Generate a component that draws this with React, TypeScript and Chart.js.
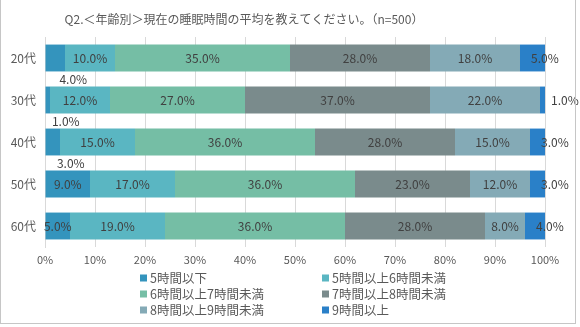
import React, { useEffect, useRef } from "react";
import { Chart, registerables } from "chart.js";

Chart.register(...registerables);

const TITLE = "Q2.＜年齢別＞現在の睡眠時間の平均を教えてください。（n=500）";
const categories = ["20代", "30代", "40代", "50代", "60代"];
const seriesNames = [
  "5時間以下",
  "5時間以上6時間未満",
  "6時間以上7時間未満",
  "7時間以上8時間未満",
  "8時間以上9時間未満",
  "9時間以上",
];
const s1 = [4, 1, 3, 9, 5];
const s2 = [10, 12, 15, 17, 19];
const s3 = [35, 27, 36, 36, 36];
const s4 = [28, 37, 28, 23, 28];
const s5 = [18, 22, 15, 12, 8];
const s6 = [5, 1, 3, 3, 4];
const seriesValues = [s1, s2, s3, s4, s5, s6];
const colors = ["#3494bd", "#5ab6c2", "#75bea5", "#7a8b8c", "#84aab6", "#2a80c8"];
const xTicks = [0, 10, 20, 30, 40, 50, 60, 70, 80, 90, 100];

const FONT = '"Noto Sans CJK JP", "Noto Sans", sans-serif';
const TEXT = "#404040";

const labelPlugin = {
  id: "customLabels",
  afterDatasetsDraw(chart: any) {
    const ctx = chart.ctx;
    ctx.save();
    ctx.font = `12px ${FONT}`;
    ctx.fillStyle = TEXT;
    ctx.textBaseline = "middle";
    chart.data.datasets.forEach((ds: any, di: number) => {
      const meta = chart.getDatasetMeta(di);
      meta.data.forEach((bar: any, i: number) => {
        const v = ds.data[i];
        const txt = v.toFixed(1) + "%";
        const left = Math.min(bar.x, bar.base);
        const right = Math.max(bar.x, bar.base);
        const cx = (left + right) / 2;
        if (di === 0 && v < 5) {
          ctx.textAlign = "center";
          ctx.fillText(txt, cx + 18, bar.y + bar.height / 2 + 8);
        } else if (di === seriesValues.length - 1) {
          ctx.textAlign = "left";
          ctx.fillText(txt, left + 11, bar.y);
        } else {
          ctx.textAlign = "center";
          ctx.fillText(txt, cx, bar.y);
        }
      });
    });
    ctx.restore();
  },
  afterDraw(chart: any) {
    const ctx = chart.ctx;
    ctx.save();
    ctx.fillStyle = "#595959";
    ctx.font = `12px ${FONT}`;
    ctx.textAlign = "center";
    ctx.textBaseline = "middle";
    ctx.fillText(TITLE, 244, 19);
    // legend
    ctx.font = `12.5px ${FONT}`;
    ctx.textAlign = "left";
    const cols = [143, 325];
    const rows = [278, 294, 310];
    seriesNames.forEach((name, i) => {
      const x = cols[i % 2];
      const y = rows[Math.floor(i / 2)];
      ctx.fillStyle = colors[i];
      ctx.fillRect(x - 3, y - 3.5, 7, 7);
      ctx.fillStyle = "#595959";
      ctx.fillText(name, x + 7, y);
    });
    ctx.restore();
  },
};

export default function App() {
  const ref = useRef<HTMLCanvasElement>(null);
  useEffect(() => {
    if (!ref.current) return;
    const chart = new Chart(ref.current, {
      type: "bar",
      data: {
        labels: categories,
        datasets: seriesValues.map((d, i) => ({
          label: seriesNames[i],
          data: d,
          backgroundColor: colors[i],
          borderWidth: 0,
          barPercentage: 0.64,
          categoryPercentage: 1,
        })),
      },
      options: {
        indexAxis: "y",
        responsive: false,
        animation: false,
        layout: { padding: { left: 0, right: 35, top: 37, bottom: 58 } },
        plugins: {
          legend: { display: false },
          title: { display: false },
          tooltip: { enabled: false },
        },
        scales: {
          x: {
            stacked: true,
            min: 0,
            max: 100,
            afterBuildTicks: (s: any) => {
              s.ticks = xTicks.map((v) => ({ value: v }));
            },
            afterFit: (s: any) => {
              s.height = 22;
            },
            ticks: {
              color: "#595959",
              font: { family: FONT, size: 11 },
              padding: 6,
              callback: (v: any) => v + "%",
            },
            grid: { color: "#d9d9d9", drawTicks: false },
            border: { display: false },
          },
          y: {
            stacked: true,
            afterFit: (s: any) => {
              s.width = 45;
            },
            ticks: {
              color: "#595959",
              font: { family: FONT, size: 12 },
              padding: 9,
            },
            grid: { display: false, drawTicks: false },
            border: { display: true, color: "#d9d9d9" },
          },
        },
      },
      plugins: [labelPlugin],
    } as any);
    return () => chart.destroy();
  }, []);
  return (
    <div style={{ position: "fixed", left: 0, top: 0, width: 580, height: 327, background: "#fff" }}>
      <canvas ref={ref} width={580} height={327} style={{ position: "absolute", left: 0, top: 0 }} />
      <div
        style={{
          position: "absolute",
          left: 0,
          top: -1,
          width: 576,
          height: 325,
          border: "1.5px solid #c6c6c6",
          boxSizing: "border-box",
          pointerEvents: "none",
        }}
      />
    </div>
  );
}
